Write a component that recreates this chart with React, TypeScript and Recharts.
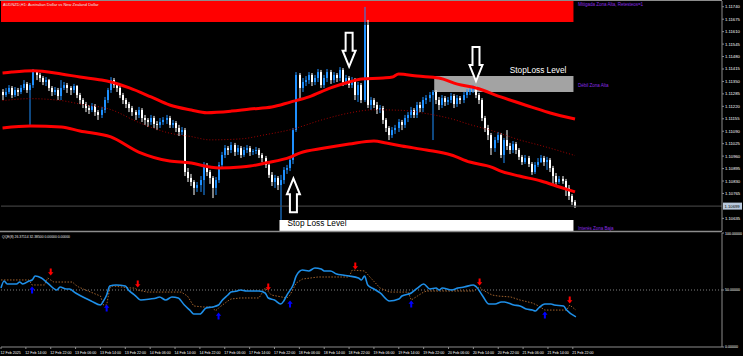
import React from "react";
import {
  ComposedChart,
  Bar,
  Line,
  XAxis,
  YAxis,
  ReferenceArea,
  ReferenceLine,
} from "recharts";

const FONT = "'Liberation Sans', Arial, sans-serif";
const SLOTS = 233; // bars on screen incl. the empty shift on the right

const timeLabels = [
  "12 Feb 2025", "12 Feb 14:00", "12 Feb 22:00", "13 Feb 06:00", "13 Feb 14:00", "13 Feb 22:00",
  "14 Feb 06:00", "14 Feb 14:00", "14 Feb 22:00", "17 Feb 06:00", "17 Feb 14:00", "17 Feb 22:00",
  "18 Feb 06:00", "18 Feb 14:00", "18 Feb 22:00", "19 Feb 06:00", "19 Feb 14:00", "19 Feb 22:00",
  "20 Feb 06:00", "20 Feb 14:00", "20 Feb 22:00", "21 Feb 06:00", "21 Feb 14:00", "21 Feb 22:00",
];

// AUDNZD H1 candles
const opens = [
  1.11295, 1.11279, 1.11295, 1.11316, 1.11279, 1.11305, 1.11295, 1.11316, 1.11337, 1.11305,
  1.11331, 1.11399, 1.11384, 1.11368, 1.11347, 1.11357, 1.11316, 1.11295, 1.11305, 1.11274,
  1.11316, 1.11331, 1.11316, 1.11305, 1.11326, 1.11279, 1.11253, 1.11232, 1.11211, 1.11201,
  1.11222, 1.1119, 1.11175, 1.11201, 1.11253, 1.11305, 1.11357, 1.11331, 1.11316, 1.11279,
  1.11253, 1.11232, 1.11211, 1.1119, 1.11175, 1.11201, 1.11159, 1.11149, 1.11138, 1.11159,
  1.11128, 1.11123, 1.11138, 1.11149, 1.11159, 1.11123, 1.11133, 1.11107, 1.11086, 1.11096,
  1.10877, 1.10846, 1.10825, 1.10794, 1.10809, 1.10835, 1.10914, 1.10877, 1.10846, 1.10794,
  1.10835, 1.10914, 1.10966, 1.11002, 1.10992, 1.11018, 1.10982, 1.11002, 1.10966, 1.10992,
  1.11002, 1.10982, 1.10987, 1.10992, 1.10966, 1.1095, 1.10914, 1.10862, 1.10825, 1.10846,
  1.10809, 1.10835, 1.10888, 1.10898, 1.1094, 1.11096, 1.11384, 1.11316, 1.11347, 1.11357,
  1.11384, 1.11347, 1.11368, 1.11399, 1.11331, 1.11368, 1.11399, 1.11357, 1.11384, 1.11368,
  1.1141, 1.11347, 1.11368, 1.11331, 1.11357, 1.11279, 1.11331, 1.11253, 1.11645, 1.11227,
  1.11253, 1.11227, 1.11201, 1.11211, 1.11149, 1.11107, 1.1107, 1.11096, 1.11107, 1.11138,
  1.11123, 1.11159, 1.11175, 1.11201, 1.11175, 1.11227, 1.11211, 1.11253, 1.11263, 1.11279,
  1.11295, 1.11253, 1.11227, 1.11263, 1.11243, 1.11253, 1.11274, 1.11232, 1.11263, 1.11253,
  1.11279, 1.11295, 1.11305, 1.11316, 1.11279, 1.11253, 1.11159, 1.11107, 1.1107, 1.11002,
  1.11044, 1.1107, 1.10966, 1.11044, 1.11013, 1.10992, 1.11023, 1.10992, 1.10956, 1.10929,
  1.1095, 1.10919, 1.10877, 1.10914, 1.10929, 1.1095, 1.10929, 1.1094, 1.10898, 1.10856,
  1.10825, 1.10841, 1.1083, 1.10794, 1.10752, 1.10721,
];
const highs = [
  1.1131, 1.11316, 1.11331, 1.11326, 1.11321, 1.11316, 1.11331, 1.11357, 1.11347, 1.11342,
  1.11415, 1.1141, 1.11394, 1.11378, 1.11373, 1.11363, 1.11326, 1.11321, 1.11316, 1.11357,
  1.11347, 1.11342, 1.11326, 1.11337, 1.11331, 1.1129, 1.11263, 1.11243, 1.11227, 1.11237,
  1.11232, 1.11201, 1.11217, 1.11269, 1.11316, 1.11373, 1.11368, 1.11342, 1.11326, 1.1129,
  1.11263, 1.11243, 1.11222, 1.11201, 1.11217, 1.11211, 1.11175, 1.11159, 1.11175, 1.1117,
  1.11143, 1.11159, 1.11164, 1.11175, 1.1117, 1.11149, 1.11143, 1.11123, 1.11112, 1.11107,
  1.10898, 1.10867, 1.10835, 1.10825, 1.10856, 1.10929, 1.10924, 1.10888, 1.10856, 1.10851,
  1.10929, 1.10982, 1.11018, 1.11013, 1.11034, 1.11029, 1.11018, 1.11013, 1.11008, 1.11018,
  1.11013, 1.10997, 1.11008, 1.11002, 1.10976, 1.10961, 1.10924, 1.10877, 1.10862, 1.10856,
  1.10862, 1.10903, 1.10914, 1.10956, 1.11107, 1.11399, 1.11394, 1.11368, 1.11378, 1.11399,
  1.11394, 1.11384, 1.11415, 1.1141, 1.11384, 1.11415, 1.1141, 1.11399, 1.11394, 1.11425,
  1.1142, 1.11384, 1.11378, 1.11373, 1.11368, 1.11347, 1.11342, 1.11739, 1.11671, 1.11269,
  1.11263, 1.11243, 1.11227, 1.11222, 1.11159, 1.11117, 1.11112, 1.11123, 1.11154, 1.11149,
  1.11175, 1.1119, 1.11217, 1.11211, 1.11243, 1.11243, 1.11269, 1.11279, 1.11295, 1.11305,
  1.11305, 1.11269, 1.11279, 1.11274, 1.11269, 1.1129, 1.11284, 1.11279, 1.11274, 1.11295,
  1.1131, 1.11321, 1.11331, 1.11326, 1.1129, 1.11263, 1.1117, 1.11123, 1.11081, 1.1106,
  1.11086, 1.11081, 1.11055, 1.11096, 1.11029, 1.11039, 1.11034, 1.11002, 1.10966, 1.10966,
  1.10961, 1.10929, 1.10929, 1.1095, 1.10966, 1.10961, 1.10956, 1.1095, 1.10909, 1.10872,
  1.10856, 1.10856, 1.10841, 1.10809, 1.10762, 1.10731,
];
const lows = [
  1.11253, 1.11269, 1.11284, 1.11263, 1.11269, 1.11274, 1.11284, 1.11305, 1.1129, 1.11123,
  1.11316, 1.11357, 1.11347, 1.11331, 1.11326, 1.113, 1.11274, 1.11279, 1.11253, 1.11253,
  1.11305, 1.1129, 1.11279, 1.1129, 1.11263, 1.11232, 1.11211, 1.1119, 1.1118, 1.1119,
  1.1117, 1.11149, 1.11159, 1.11185, 1.11237, 1.1129, 1.11316, 1.11295, 1.11263, 1.11232,
  1.11211, 1.1119, 1.1117, 1.11149, 1.11159, 1.11138, 1.11123, 1.11112, 1.11123, 1.11107,
  1.11096, 1.11107, 1.11123, 1.11128, 1.11107, 1.11107, 1.11086, 1.11065, 1.1107, 1.10856,
  1.10825, 1.10804, 1.10757, 1.10773, 1.10773, 1.10757, 1.10856, 1.10815, 1.10741, 1.10757,
  1.1082, 1.10898, 1.1095, 1.10966, 1.10976, 1.10961, 1.10966, 1.1095, 1.10956, 1.10976,
  1.10961, 1.10966, 1.10971, 1.1095, 1.10929, 1.10898, 1.10846, 1.10804, 1.10794, 1.10783,
  1.10627, 1.10815, 1.10867, 1.10882, 1.10919, 1.11086, 1.11253, 1.11295, 1.11326, 1.11337,
  1.11326, 1.11331, 1.11347, 1.11316, 1.11316, 1.11347, 1.11337, 1.11342, 1.11347, 1.11352,
  1.11326, 1.11331, 1.11316, 1.11316, 1.11253, 1.11243, 1.11237, 1.11243, 1.11211, 1.11201,
  1.11211, 1.1118, 1.11185, 1.11128, 1.11086, 1.11044, 1.11055, 1.11076, 1.11086, 1.11096,
  1.11107, 1.11138, 1.11159, 1.11159, 1.11159, 1.1119, 1.1119, 1.11232, 1.11243, 1.11044,
  1.11232, 1.11201, 1.11211, 1.11222, 1.11227, 1.11237, 1.11211, 1.11217, 1.11232, 1.11237,
  1.11263, 1.11279, 1.1129, 1.11263, 1.11232, 1.11143, 1.11086, 1.11044, 1.10966, 1.10982,
  1.11029, 1.1095, 1.10924, 1.10992, 1.10971, 1.10976, 1.10971, 1.1094, 1.10914, 1.10919,
  1.10903, 1.10862, 1.10867, 1.10903, 1.10924, 1.10909, 1.10888, 1.10877, 1.10809, 1.10804,
  1.10815, 1.10815, 1.10752, 1.10731, 1.10705, 1.10689,
];
const closes = [
  1.11279, 1.11295, 1.11316, 1.11279, 1.11305, 1.11295, 1.11316, 1.11337, 1.11305, 1.11331,
  1.11399, 1.11384, 1.11368, 1.11347, 1.11357, 1.11316, 1.11295, 1.11305, 1.11274, 1.11316,
  1.11331, 1.11316, 1.11305, 1.11326, 1.11279, 1.11253, 1.11232, 1.11211, 1.11201, 1.11222,
  1.1119, 1.11175, 1.11201, 1.11253, 1.11305, 1.11357, 1.11331, 1.11316, 1.11279, 1.11253,
  1.11232, 1.11211, 1.1119, 1.11175, 1.11201, 1.11159, 1.11149, 1.11138, 1.11159, 1.11128,
  1.11123, 1.11138, 1.11149, 1.11159, 1.11123, 1.11133, 1.11107, 1.11086, 1.11096, 1.10877,
  1.10846, 1.10825, 1.10794, 1.10809, 1.10835, 1.10914, 1.10877, 1.10846, 1.10794, 1.10835,
  1.10914, 1.10966, 1.11002, 1.10992, 1.11018, 1.10982, 1.11002, 1.10966, 1.10992, 1.11002,
  1.10982, 1.10987, 1.10992, 1.10966, 1.1095, 1.10914, 1.10862, 1.10825, 1.10846, 1.10809,
  1.10835, 1.10888, 1.10898, 1.1094, 1.11096, 1.11384, 1.11316, 1.11347, 1.11357, 1.11384,
  1.11347, 1.11368, 1.11399, 1.11331, 1.11368, 1.11399, 1.11357, 1.11384, 1.11368, 1.1141,
  1.11347, 1.11368, 1.11331, 1.11357, 1.11279, 1.11331, 1.11253, 1.11645, 1.11227, 1.11253,
  1.11227, 1.11201, 1.11211, 1.11149, 1.11107, 1.1107, 1.11096, 1.11107, 1.11138, 1.11123,
  1.11159, 1.11175, 1.11201, 1.11175, 1.11227, 1.11211, 1.11253, 1.11263, 1.11279, 1.11295,
  1.11253, 1.11227, 1.11263, 1.11243, 1.11253, 1.11274, 1.11232, 1.11263, 1.11253, 1.11279,
  1.11295, 1.11305, 1.11316, 1.11279, 1.11253, 1.11159, 1.11107, 1.1107, 1.11002, 1.11044,
  1.1107, 1.10966, 1.11044, 1.11013, 1.10992, 1.11023, 1.10992, 1.10956, 1.10929, 1.1095,
  1.10919, 1.10877, 1.10914, 1.10929, 1.1095, 1.10929, 1.1094, 1.10898, 1.10856, 1.10825,
  1.10841, 1.1083, 1.10794, 1.10752, 1.10721, 1.10699,
];

const priceTicks = [
  1.1174, 1.11675, 1.1161, 1.11545, 1.1148, 1.11415, 1.1135, 1.11285, 1.1122,
  1.11155, 1.1109, 1.11025, 1.1096, 1.10895, 1.1083, 1.10765, 1.10635,
];
const lastPrice = 1.10699;

// band envelope [bar, price]
const upperBand = [
  [0, 1.11394], [3, 1.11399], [10, 1.11406], [19, 1.11389], [25, 1.11373], [32, 1.11357],
  [35, 1.11347], [41, 1.11316], [48, 1.11269], [54, 1.11227], [61, 1.11201], [66, 1.11187],
  [74, 1.11195], [80, 1.11206], [87, 1.11216], [93, 1.11242], [99, 1.11269], [106, 1.11316],
  [112, 1.11347], [116, 1.11363], [123, 1.11368], [126, 1.11373], [128, 1.11389], [134, 1.11378],
  [141, 1.11368], [147, 1.11336], [153, 1.11316], [161, 1.11269], [171, 1.11216], [177, 1.11185],
  [185, 1.11154],
];
const lowerBand = [
  [0, 1.11107], [9, 1.11117], [19, 1.11112], [25, 1.11091], [35, 1.1106], [44, 1.10981],
  [54, 1.10934], [61, 1.10924], [67, 1.10903], [70, 1.10898], [77, 1.10903], [80, 1.10908],
  [85, 1.10924], [93, 1.10955], [96, 1.10976], [104, 1.11002], [112, 1.11023], [120, 1.11039],
  [124, 1.11028], [129, 1.11013], [137, 1.10992], [145, 1.10966], [151, 1.10929], [158, 1.10903],
  [161, 1.10882], [167, 1.10856], [174, 1.1083], [180, 1.10799], [185, 1.10773],
];
const middleBand = [
  [0, 1.1125], [9, 1.1126], [19, 1.1125], [25, 1.11232], [35, 1.11203], [44, 1.11136],
  [54, 1.1108], [61, 1.11062], [67, 1.11045], [77, 1.1105], [85, 1.11072], [93, 1.11098],
  [104, 1.11153], [112, 1.11185], [120, 1.11202], [129, 1.11199], [137, 1.11182], [145, 1.11155],
  [151, 1.11125], [158, 1.11094], [167, 1.11045], [174, 1.11015], [185, 1.10963],
];

// signal arrows on the price panel [bar, tip price]
const bigArrowsDown = [[112, 1.11427], [153, 1.11352]];
const bigArrowsUp = [[94, 1.10844]];

// supply / demand zones
const zoneNames = ["Mitigada Zona Alta, Retesteos=1", "Débil Zona Alta", "Interés Zona Baja"];
const zoneStart = [0, 140, 90];
const zoneEnd = [184, 184, 184];
const zoneTop = [1.1177, 1.11378, 1.10627];
const zoneBottom = [1.1166, 1.11295, 1.10569];

// QQE(8) [bar, value]
const qqeFast = [
  [0, 51.7], [1, 57.9], [2, 55.3], [5, 55.3], [6, 57.0], [7, 55.3], [9, 57.9], [10, 58.8],
  [11, 62.3], [13, 60.5], [15, 56.1], [18, 50.0], [19, 52.6], [21, 50.9], [22, 50.9], [24, 47.4],
  [27, 43.0], [29, 40.4], [32, 36.8], [33, 40.4], [34, 45.6], [35, 53.5], [37, 54.4], [40, 53.5],
  [41, 50.0], [43, 45.6], [45, 41.2], [48, 42.1], [50, 43.0], [51, 43.9], [53, 41.2], [55, 43.9],
  [57, 43.0], [59, 36.8], [61, 31.6], [62, 28.9], [64, 28.9], [66, 34.2], [68, 35.1], [70, 36.8],
  [71, 40.4], [73, 45.6], [74, 48.2], [76, 49.1], [77, 50.0], [79, 49.1], [80, 49.1], [83, 49.1],
  [85, 47.4], [86, 43.0], [88, 41.2], [90, 37.7], [91, 40.4], [92, 45.6], [94, 54.4], [95, 62.3],
  [97, 67.5], [99, 66.7], [101, 69.3], [103, 68.4], [104, 66.7], [106, 66.7], [108, 64.0],
  [110, 63.1], [112, 62.3], [115, 60.5], [116, 58.8], [117, 62.3], [118, 54.4], [120, 50.9],
  [122, 47.4], [125, 40.4], [128, 42.1], [129, 44.7], [132, 47.4], [134, 51.7], [136, 55.3],
  [138, 50.9], [140, 51.7], [141, 50.0], [142, 51.7], [145, 50.0], [147, 51.7], [149, 52.6],
  [152, 54.4], [153, 52.6], [155, 44.7], [157, 37.7], [159, 37.7], [161, 39.5], [162, 39.5],
  [165, 36.8], [167, 36.0], [169, 33.3], [171, 32.4], [172, 31.6], [173, 34.2], [175, 37.7],
  [177, 37.7], [178, 36.8], [181, 36.0], [182, 32.4], [185, 26.4],
];
const qqeSlow = [
  [0, 58.8], [9, 58.8], [10, 54.4], [14, 54.4], [15, 60.5], [17, 57.0], [23, 57.0], [24, 54.4],
  [25, 52.6], [28, 49.1], [32, 44.7], [33, 36.8], [34, 36.8], [35, 51.7], [36, 53.5], [42, 51.7],
  [43, 51.7], [44, 50.0], [47, 48.2], [58, 48.2], [60, 44.7], [62, 36.0], [65, 35.1], [68, 35.1],
  [69, 31.6], [70, 34.2], [73, 40.4], [74, 42.1], [77, 43.0], [83, 43.0], [85, 51.7], [87, 45.6],
  [92, 43.0], [93, 45.6], [95, 56.1], [97, 59.6], [102, 61.4], [112, 61.4], [113, 67.5],
  [117, 66.7], [119, 60.5], [122, 51.7], [125, 48.2], [131, 48.2], [132, 41.2], [134, 44.7],
  [136, 48.2], [137, 49.1], [152, 49.1], [154, 52.6], [155, 50.0], [158, 45.6], [160, 44.7],
  [164, 43.9], [167, 41.2], [171, 38.6], [173, 36.0], [175, 32.4], [182, 32.4], [183, 36.8],
  [185, 32.4],
];
const qqeSell = [[16, 65.8], [44, 55.3], [86, 52.6], [114, 71.0], [154, 57.0], [183, 41.2]];
const qqeBuy = [[10, 50.0], [34, 34.2], [70, 27.2], [93, 37.7], [132, 37.7], [175, 28.1]];

type Row = {
  i: number;
  open?: number;
  high?: number;
  low?: number;
  close?: number;
  upper?: number;
  lower?: number;
  middle?: number;
  arrowDown?: number;
  arrowUp?: number;
  fast?: number;
  slow?: number;
  sell?: number;
  buy?: number;
};

const rows: Row[] = Array.from({ length: SLOTS }, (_, i) => ({
  i,
  open: opens[i],
  high: highs[i],
  low: lows[i],
  close: closes[i],
}));
const put = (pairs: number[][], key: keyof Row) =>
  pairs.forEach(([i, v]) => {
    (rows[i] as any)[key] = v;
  });
put(upperBand, "upper");
put(lowerBand, "lower");
put(middleBand, "middle");
put(bigArrowsDown, "arrowDown");
put(bigArrowsUp, "arrowUp");
put(qqeFast, "fast");
put(qqeSlow, "slow");
put(qqeSell, "sell");
put(qqeBuy, "buy");

function Candle(props: any) {
  const { x, y, width, height, payload } = props;
  if (!payload || payload.open == null) return <g />;
  const top = Math.min(y, y + height);
  const bottom = Math.max(y, y + height);
  const span = payload.high - payload.low || 1e-9;
  const py = (v: number) => top + ((payload.high - v) / span) * (bottom - top);
  const cx = Math.round(x + width / 2);
  const bull = payload.close > payload.open;
  const color = bull ? "#1e90ff" : "#ffffff";
  const bTop = py(Math.max(payload.open, payload.close));
  const bBot = py(Math.min(payload.open, payload.close));
  return (
    <g>
      <rect x={cx - 0.5} y={top} width={1} height={bottom - top} fill={color} />
      <rect x={cx - 1} y={bTop} width={2} height={Math.max(1, bBot - bTop)} fill={color} />
    </g>
  );
}

function BigArrow(props: any) {
  const { cx, cy, value, index, up } = props;
  if (value == null || cy == null) return <g key={`ba-${index}`} />;
  const s = 3.5, h = 6.5, hl = 16, L = 34;
  const d = up ? 1 : -1;
  const pts = [
    [cx - s, cy - d * -L],
    [cx + s, cy - d * -L],
    [cx + s, cy - d * -hl],
    [cx + h, cy - d * -hl],
    [cx, cy],
    [cx - h, cy - d * -hl],
    [cx - s, cy - d * -hl],
  ];
  return (
    <polygon
      key={`ba-${index}`}
      points={pts.map((p) => p.join(",")).join(" ")}
      fill="#000"
      stroke="#fff"
      strokeWidth={2}
    />
  );
}

function SmallArrow(props: any) {
  const { cx, cy, value, index, up, color } = props;
  if (value == null || cy == null) return <g key={`sa-${index}`} />;
  const d = up ? 1 : -1;
  const pts = [
    [0, -3.5], [2.7, -0.3], [1, -0.3], [1, 3.5], [-1, 3.5], [-1, -0.3], [-2.7, -0.3],
  ].map(([a, b]) => `${cx + a},${cy + b * d}`);
  return <polygon key={`sa-${index}`} points={pts.join(" ")} fill={color} />;
}

function ZoneLabel(props: any) {
  const { viewBox, name, place, caption } = props;
  if (!viewBox) return null;
  const { x, y, width, height } = viewBox;
  const ty = place === "top" ? y + 5 : place === "bottom" ? y + height - 1.5 : y + height / 2 + 3;
  return (
    <g fontFamily={FONT}>
      <text x={x + width + 4.5} y={ty} fontSize={4.5} fill="#8a2be2">
        {name}
      </text>
      {caption === "above" && (
        <text x={x + width - 7} y={y - 3.5} fontSize={8.3} fill="#fff" textAnchor="end">
          StopLoss Level
        </text>
      )}
      {caption === "inside" && (
        <text x={x + 8} y={y + 6.3} fontSize={8.3} fill="#000">
          Stop Loss Level
        </text>
      )}
    </g>
  );
}

function PriceTag(props: any) {
  const { viewBox } = props;
  if (!viewBox) return null;
  const x = viewBox.x + viewBox.width + 1;
  return (
    <g>
      <rect x={x} y={viewBox.y - 3.5} width={19} height={7} fill="#b8c8dc" />
      <text x={x + 1.5} y={viewBox.y + 1.6} fontSize={4.2} fill="#000" fontFamily={FONT}>
        {lastPrice.toFixed(5)}
      </text>
    </g>
  );
}

function TimeTick(props: any) {
  const { x, y, payload } = props;
  const label = timeLabels[payload.value / 8];
  return (
    <text x={x - 0.5} y={y + 3} fontSize={3.6} fill="#fff" fontFamily={FONT}>
      {label}
    </text>
  );
}

const axisGrey = "#8c8c8c";

export default function App() {
  return (
    <div
      style={{
        position: "fixed",
        left: 0,
        top: 0,
        width: 743,
        height: 356,
        background: "#000",
        overflow: "hidden",
      }}
    >
      <div style={{ position: "absolute", left: 0, top: 0 }}>
        <ComposedChart
          width={743}
          height={231}
          data={rows}
          margin={{ top: 1, right: 0, bottom: 0, left: 1 }}
          barCategoryGap={0}
        >
          <XAxis dataKey="i" hide />
          <YAxis
            orientation="right"
            width={21}
            domain={[1.10569, 1.1177]}
            allowDataOverflow
            ticks={priceTicks}
            tickFormatter={(v: number) => v.toFixed(5)}
            tick={{ fill: "#fff", fontSize: 4.2, fontFamily: FONT }}
            tickSize={2}
            tickMargin={1}
            stroke={axisGrey}
          />
          <ReferenceArea
            x1={zoneStart[0]}
            x2={zoneEnd[0]}
            y1={zoneBottom[0]}
            y2={zoneTop[0]}
            fill="#ff0000"
            fillOpacity={1}
            stroke="none"
            label={<ZoneLabel name={zoneNames[0]} place="top" />}
          />
          <ReferenceArea
            x1={zoneStart[1]}
            x2={zoneEnd[1]}
            y1={zoneBottom[1]}
            y2={zoneTop[1]}
            fill="#a3a3a3"
            fillOpacity={1}
            stroke="none"
            label={<ZoneLabel name={zoneNames[1]} place="middle" caption="above" />}
          />
          <ReferenceArea
            x1={zoneStart[2]}
            x2={zoneEnd[2]}
            y1={zoneBottom[2]}
            y2={zoneTop[2]}
            fill="#ffffff"
            fillOpacity={1}
            stroke="none"
            label={<ZoneLabel name={zoneNames[2]} place="bottom" caption="inside" />}
          />
          <ReferenceLine y={lastPrice} stroke="#4d4d4d" label={<PriceTag />} />
          <Line
            dataKey="middle"
            stroke="#a00000"
            strokeWidth={1}
            strokeDasharray="1 2"
            dot={false}
            connectNulls
            type="monotone"
            isAnimationActive={false}
          />
          <Bar
            dataKey={(d: Row) => (d.open == null ? undefined : [d.low, d.high])}
            shape={<Candle />}
            isAnimationActive={false}
          />
          <Line
            dataKey="upper"
            stroke="#ff0000"
            strokeWidth={3}
            dot={false}
            connectNulls
            type="monotone"
            isAnimationActive={false}
          />
          <Line
            dataKey="lower"
            stroke="#ff0000"
            strokeWidth={3}
            dot={false}
            connectNulls
            type="monotone"
            isAnimationActive={false}
          />
          <Line
            dataKey="arrowDown"
            stroke="none"
            dot={(p: any) => <BigArrow {...p} up={false} />}
            activeDot={false}
            isAnimationActive={false}
          />
          <Line
            dataKey="arrowUp"
            stroke="none"
            dot={(p: any) => <BigArrow {...p} up />}
            activeDot={false}
            isAnimationActive={false}
          />
        </ComposedChart>
      </div>

      <div style={{ position: "absolute", left: 0, top: 232 }}>
        <ComposedChart
          width={743}
          height={124}
          data={rows}
          margin={{ top: 1, right: 0, bottom: 0, left: 1 }}
        >
          <XAxis
            dataKey="i"
            height={9}
            ticks={timeLabels.map((_, k) => k * 8)}
            tick={<TimeTick />}
            tickSize={2}
            stroke={axisGrey}
            interval={0}
          />
          <YAxis
            orientation="right"
            width={21}
            domain={[0, 100]}
            ticks={[0, 50, 100]}
            tickFormatter={(v: number) => v.toFixed(5)}
            tick={{ fill: "#fff", fontSize: 3.6, fontFamily: FONT }}
            tickSize={2}
            tickMargin={1}
            stroke={axisGrey}
          />
          <ReferenceLine y={50} stroke="#808080" strokeDasharray="1 2" />
          <Line
            dataKey="slow"
            stroke="#a0622d"
            strokeWidth={1}
            strokeDasharray="1.5 1.5"
            dot={false}
            connectNulls
            type="linear"
            isAnimationActive={false}
          />
          <Line
            dataKey="fast"
            stroke="#1e8fe8"
            strokeWidth={1.6}
            dot={false}
            connectNulls
            type="monotone"
            isAnimationActive={false}
          />
          <Line
            dataKey="sell"
            stroke="none"
            dot={(p: any) => <SmallArrow {...p} up={false} color="#ff0000" />}
            activeDot={false}
            isAnimationActive={false}
          />
          <Line
            dataKey="buy"
            stroke="none"
            dot={(p: any) => <SmallArrow {...p} up color="#0000ff" />}
            activeDot={false}
            isAnimationActive={false}
          />
        </ComposedChart>
      </div>

      <svg
        width={743}
        height={356}
        style={{ position: "absolute", left: 0, top: 0, pointerEvents: "none" }}
      >
        <line x1={0} y1={0.5} x2={722} y2={0.5} stroke={axisGrey} />
        <line x1={0} y1={231.5} x2={722} y2={231.5} stroke={axisGrey} strokeWidth={1.5} />
        <text x={3} y={6} fontSize={4} fill="#e8e8e8" fontFamily={FONT}>
          AUDNZD,H1: Australian Dollar vs New Zealand Dollar
        </text>
        <text x={2} y={237.5} fontSize={3.4} fill="#e8e8e8" fontFamily={FONT}>
          QQE(8) 26.37114 32.38500 0.00000 0.00000
        </text>
      </svg>
    </div>
  );
}
